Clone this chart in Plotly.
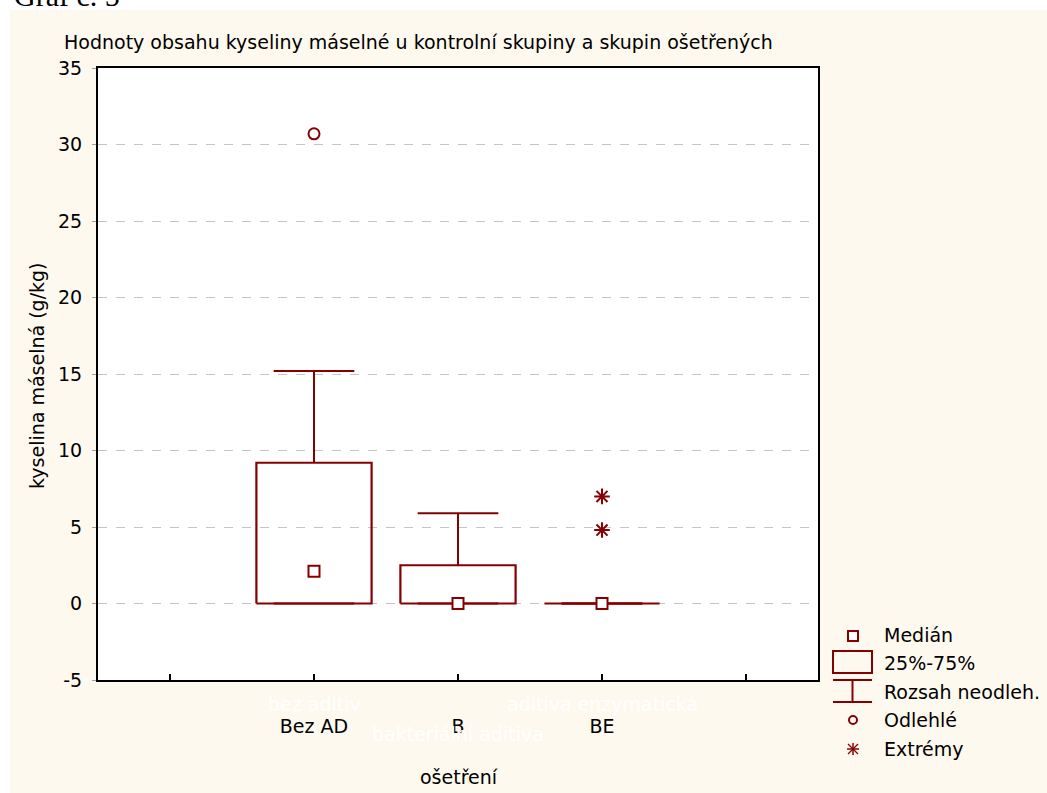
import plotly.graph_objects as go

# ---- data ----
categories = ["Bez AD", "B", "BE"]
hidden_labels = ["bez aditiv", "bakteriální aditiva", "aditiva enzymatická"]
q1 = [0.0, 0.0, 0.0]
median = [2.1, 0.0, 0.0]
q3 = [9.2, 2.5, 0.0]
whisker_lo = [0.0, 0.0, 0.0]
whisker_hi = [15.2, 5.9, 0.0]
outlier_cat = ["Bez AD"]
outlier_val = [30.7]
extreme_cat = ["BE", "BE"]
extreme_val = [7.0, 4.8]
y_ticks = [-5, 0, 5, 10, 15, 20, 25, 30, 35]
y_tick_text = ["-5", "0", "5", "10", "15", "20", "25", "30", "35"]

# ---- style ----
RED = "#850000"
CREAM = "#FEF9EE"
FONT = "DejaVu Sans"
W, H = 1047, 793
L, R, T, B = 98, 818, 68, 680  # plot area in pixels
BOX_HALF = 0.4
CAP_HALF = 0.28

pos = {c: i + 1 for i, c in enumerate(categories)}


def px(x):
    return (x - L) / (R - L)


def py(y):
    return (B - y) / (B - T)


fig = go.Figure()

for c, a, m, b, lo, hi in zip(categories, q1, median, q3, whisker_lo, whisker_hi):
    x = pos[c]
    # whiskers
    fig.add_trace(go.Scatter(x=[x, x, None, x - CAP_HALF, x + CAP_HALF, None, x, x, None, x - CAP_HALF, x + CAP_HALF],
                             y=[b, hi, None, hi, hi, None, a, lo, None, lo, lo],
                             mode="lines", line=dict(color=RED, width=2), showlegend=False, hoverinfo="skip"))
    # box
    fig.add_trace(go.Scatter(x=[x - BOX_HALF, x + BOX_HALF, x + BOX_HALF, x - BOX_HALF, x - BOX_HALF],
                             y=[a, a, b, b, a], mode="lines", line=dict(color=RED, width=2.2),
                             showlegend=False, hoverinfo="skip"))

fig.add_trace(go.Scatter(x=[pos[c] for c in categories], y=median, mode="markers",
                         marker=dict(symbol="square", size=11, color="white", line=dict(color=RED, width=2)),
                         showlegend=False))
fig.add_trace(go.Scatter(x=[pos[c] for c in outlier_cat], y=outlier_val, mode="markers",
                         marker=dict(symbol="circle", size=11, color="white", line=dict(color=RED, width=2)),
                         showlegend=False))
fig.add_trace(go.Scatter(x=[pos[c] for c in extreme_cat], y=extreme_val, mode="markers",
                         marker=dict(symbol="asterisk-open", size=13, color=RED, line=dict(color=RED, width=2)),
                         showlegend=False))

shapes = []
annotations = []

# white strips at the top and left of the image
shapes.append(dict(type="rect", xref="paper", yref="paper", x0=px(0), x1=px(W), y0=py(10), y1=py(0),
                   fillcolor="white", line=dict(width=0), layer="below"))
shapes.append(dict(type="rect", xref="paper", yref="paper", x0=px(0), x1=px(10), y0=py(H), y1=py(0),
                   fillcolor="white", line=dict(width=0), layer="below"))

# header text (cut off at the top)
annotations.append(dict(text="Graf č. 5", xref="paper", yref="paper", x=px(12), y=py(14),
                        xanchor="left", yanchor="bottom", showarrow=False,
                        font=dict(family="Liberation Serif", size=30, color="black")))
# chart title
annotations.append(dict(text="Hodnoty obsahu kyseliny máselné u kontrolní skupiny a skupin ošetřených",
                        xref="paper", yref="paper", x=px(62), y=py(42), xanchor="left", yanchor="middle",
                        showarrow=False, font=dict(family=FONT, size=19, color="black")))
# axis titles
annotations.append(dict(text="kyselina máselná (g/kg)", xref="paper", yref="paper", x=px(37), y=py(376),
                        xanchor="center", yanchor="middle", textangle=-90, showarrow=False,
                        font=dict(family=FONT, size=19, color="black")))
annotations.append(dict(text="ošetření", xref="paper", yref="paper", x=px(459), y=py(777),
                        xanchor="center", yanchor="middle", showarrow=False,
                        font=dict(family=FONT, size=19, color="black")))
# hidden white labels under the categories
hidden_y = [704, 734, 704]
for c, lab, yy in zip(categories, hidden_labels, hidden_y):
    annotations.append(dict(text=lab, xref="x", yref="paper", x=pos[c], y=py(yy), xanchor="center",
                            yanchor="middle", showarrow=False, font=dict(family=FONT, size=19, color="white")))

# legend (drawn manually)
tx = 882
legend_rows = [("Medián", 635), ("25%-75%", 663), ("Rozsah neodleh.", 692), ("Odlehlé", 720), ("Extrémy", 749)]
for lab, yy in legend_rows:
    annotations.append(dict(text=lab, xref="paper", yref="paper", x=px(tx), y=py(yy), xanchor="left",
                            yanchor="middle", showarrow=False, font=dict(family=FONT, size=19, color="black")))


def seg(x0, y0, x1, y1, w=2):
    shapes.append(dict(type="line", xref="paper", yref="paper", x0=px(x0), x1=px(x1), y0=py(y0), y1=py(y1),
                       line=dict(color=RED, width=w)))


# median symbol
shapes.append(dict(type="rect", xref="paper", yref="paper", x0=px(848), x1=px(858), y0=py(641), y1=py(631),
                   line=dict(color=RED, width=2), fillcolor="white"))
# box symbol
shapes.append(dict(type="rect", xref="paper", yref="paper", x0=px(833), x1=px(872), y0=py(673), y1=py(651),
                   line=dict(color=RED, width=2), fillcolor="rgba(0,0,0,0)"))
# whisker symbol
seg(833, 680, 872, 680)
seg(833, 702, 872, 702)
seg(852.5, 680, 852.5, 702)
# outlier symbol
shapes.append(dict(type="circle", xref="paper", yref="paper", x0=px(849), x1=px(857), y0=py(724), y1=py(716),
                   line=dict(color=RED, width=2), fillcolor="white"))
# extreme symbol
cx, cy = 853, 749
seg(cx - 6, cy, cx + 6, cy, 1.5)
seg(cx, cy - 6, cx, cy + 6, 1.5)
seg(cx - 5, cy - 5, cx + 5, cy + 5, 1.2)
seg(cx - 5, cy + 5, cx + 5, cy - 5, 1.2)

fig.update_layout(
    width=W, height=H,
    margin=dict(l=L, r=W - R, t=T, b=H - B, pad=0),
    paper_bgcolor=CREAM, plot_bgcolor="white",
    showlegend=False,
    font=dict(family=FONT, size=19, color="black"),
    shapes=shapes, annotations=annotations,
    xaxis=dict(range=[-0.5, 4.5], tickvals=[0, 1, 2, 3, 4], ticktext=[""] + categories + [""],
               ticks="inside", ticklen=6, tickwidth=1.5, tickcolor="black",
               showline=True, mirror=True, linecolor="black", linewidth=2,
               showgrid=False, zeroline=False, ticklabelstandoff=28,
               tickfont=dict(family=FONT, size=19, color="black")),
    yaxis=dict(range=[-5, 35], tickvals=y_ticks, ticktext=y_tick_text, ticks="outside", ticklen=4,
               tickcolor="#A0A0A0",
               showline=True, mirror=True, linecolor="black", linewidth=2,
               showgrid=True, gridcolor="#C4C4C4", griddash="dash", gridwidth=1, zeroline=False,
               ticklabelstandoff=6, tickfont=dict(family=FONT, size=19, color="black")),
)

fig.write_html("out.html", config={"displayModeBar": False},
               post_script="document.body.style.margin='0';document.body.style.padding='0';"
                           "document.body.style.overflow='hidden';")
